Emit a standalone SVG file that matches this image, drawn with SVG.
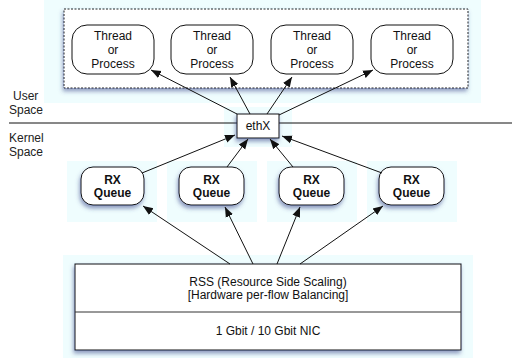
<svg xmlns="http://www.w3.org/2000/svg" width="512" height="358" viewBox="0 0 512 358">
<style>
.bg{fill:#effdfe;}
.node{fill:#fff;stroke:#111;stroke-width:1;}
.t{font-family:"Liberation Sans",Arial,sans-serif;font-size:12px;fill:#111;text-anchor:middle;}
.b{font-weight:bold;}
.lbl{font-family:"Liberation Sans",Arial,sans-serif;font-size:12px;fill:#222;}
.edge{stroke:#111;stroke-width:1;fill:none;marker-end:url(#ah);}
</style>
<defs>
<marker id="ah" viewBox="0 0 10 10" refX="10" refY="5" markerWidth="10" markerHeight="10" markerUnits="userSpaceOnUse" orient="auto">
<path d="M0,1 L10,5 L0,9 z" fill="#111"/>
</marker>
<filter id="sh" x="-20%" y="-20%" width="140%" height="150%">
<feDropShadow dx="-1" dy="3" stdDeviation="2" flood-color="#3a4a8a" flood-opacity="0.55"/>
</filter>
</defs>
<rect width="512" height="358" fill="#fff"/>
<!-- backgrounds -->
<rect class="bg" x="44" y="0" width="437" height="103"/>
<rect class="bg" x="224" y="107" width="68" height="40"/>
<rect class="bg" x="67" y="161" width="90" height="61"/>
<rect class="bg" x="167" y="161" width="90" height="61"/>
<rect class="bg" x="267" y="161" width="90" height="61"/>
<rect class="bg" x="367" y="161" width="90" height="61"/>
<rect class="bg" x="63" y="255" width="410" height="103"/>

<line x1="9" y1="123" x2="512" y2="123" stroke="#111" stroke-width="1"/>
<g id="labels">
<text class="lbl" x="13" y="100">User</text>
<text class="lbl" x="9" y="114">Space</text>
<text class="lbl" x="9" y="142">Kernel</text>
<text class="lbl" x="9" y="156">Space</text>
</g>

<g id="userspace">
<rect x="64" y="9" width="404" height="79" fill="#fff" stroke="#222" stroke-width="1" stroke-dasharray="2,1.5" filter="url(#sh)"/>
</g>

<g id="thread1"><rect class="node" x="72" y="25" width="82" height="49" rx="15" ry="15"/>
<text class="t" x="113" y="40">Thread</text><text class="t" x="113" y="54">or</text><text class="t" x="113" y="68">Process</text></g>
<g id="thread2"><rect class="node" x="171" y="25" width="82" height="49" rx="15" ry="15"/>
<text class="t" x="212" y="40">Thread</text><text class="t" x="212" y="54">or</text><text class="t" x="212" y="68">Process</text></g>
<g id="thread3"><rect class="node" x="271" y="25" width="82" height="49" rx="15" ry="15"/>
<text class="t" x="312" y="40">Thread</text><text class="t" x="312" y="54">or</text><text class="t" x="312" y="68">Process</text></g>
<g id="thread4"><rect class="node" x="371" y="25" width="82" height="49" rx="15" ry="15"/>
<text class="t" x="412" y="40">Thread</text><text class="t" x="412" y="54">or</text><text class="t" x="412" y="68">Process</text></g>

<g id="ethX"><rect class="node" x="237" y="114" width="42" height="24" filter="url(#sh)"/>
<text class="t" x="258" y="130">ethX</text></g>

<g id="rx1"><rect class="node" x="81" y="167" width="63" height="38" rx="12" ry="12" filter="url(#sh)"/>
<text class="t b" x="112.5" y="184">RX</text><text class="t b" x="112.5" y="197">Queue</text></g>
<g id="rx2"><rect class="node" x="179" y="167" width="65" height="38" rx="12" ry="12" filter="url(#sh)"/>
<text class="t b" x="211.5" y="184">RX</text><text class="t b" x="211.5" y="197">Queue</text></g>
<g id="rx3"><rect class="node" x="279" y="167" width="65" height="38" rx="12" ry="12" filter="url(#sh)"/>
<text class="t b" x="311.5" y="184">RX</text><text class="t b" x="311.5" y="197">Queue</text></g>
<g id="rx4"><rect class="node" x="379" y="167" width="65" height="38" rx="12" ry="12" filter="url(#sh)"/>
<text class="t b" x="411.5" y="184">RX</text><text class="t b" x="411.5" y="197">Queue</text></g>

<g id="nic"><rect class="node" x="75" y="264" width="386" height="86" filter="url(#sh)"/>
<line x1="75" y1="312" x2="461" y2="312" stroke="#333" stroke-width="1"/>
<text class="t" x="268" y="286">RSS (Resource Side Scaling)</text>
<text class="t" x="268" y="299">[Hardware per-flow Balancing]</text>
<text class="t" x="268" y="335">1 Gbit / 10 Gbit NIC</text></g>

<g id="connectors">
<line class="edge" x1="237" y1="114" x2="151" y2="70"/>
<line class="edge" x1="250" y1="114" x2="230" y2="77"/>
<line class="edge" x1="267" y1="114" x2="292" y2="77"/>
<line class="edge" x1="279" y1="115" x2="373" y2="70"/>
<line class="edge" x1="142" y1="173" x2="235" y2="135"/>
<line class="edge" x1="227" y1="167" x2="248" y2="139"/>
<line class="edge" x1="293" y1="167" x2="270" y2="139"/>
<line class="edge" x1="382" y1="173" x2="282" y2="136"/>
<line class="edge" x1="230" y1="264" x2="143" y2="206"/>
<line class="edge" x1="253" y1="264" x2="225" y2="207"/>
<line class="edge" x1="277" y1="264" x2="300" y2="207"/>
<line class="edge" x1="300" y1="264" x2="383" y2="206"/>
</g>
</svg>
